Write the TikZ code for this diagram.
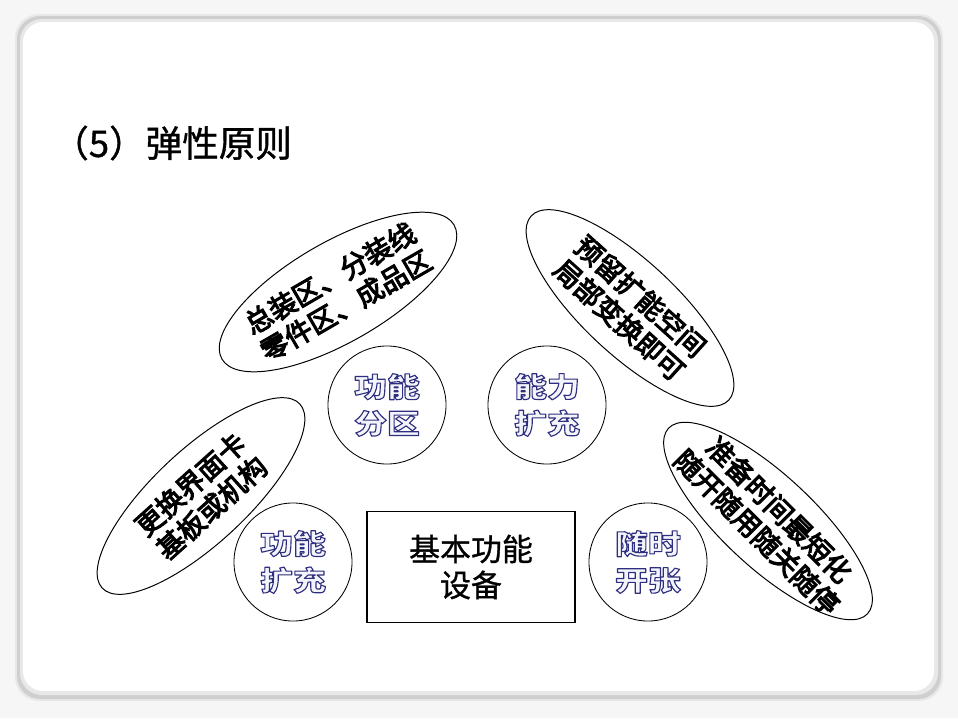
\documentclass[tikz,border=0pt]{standalone}
\usepackage{fontspec}
\usetikzlibrary{shapes.geometric}
\newfontfamily\heiti[FakeBold=1]{Noto Sans CJK SC}
\newfontfamily\heitibold[FakeBold=4]{Noto Sans CJK SC}
\newfontfamily\roundfont[FakeStretch=1.2]{Noto Sans CJK SC}
\definecolor{ringnavy}{HTML}{2E2F7E}
\definecolor{ringfill}{HTML}{F4F4FB}
% outlined glyphs: fill in text colour, stroke in navy
\newcommand\ringtxt[1]{\special{pdf:literal direct 2 Tr 0.8 w 1 j 0.18 0.184 0.494 RG}#1\special{pdf:literal direct 0 Tr}}

\begin{document}
\begin{tikzpicture}[x=0.025cm, y=-0.025cm,
    ell/.style={ellipse, draw, line width=0.7pt, minimum width=6.75cm,
      minimum height=2.35cm, inner sep=0pt},
    elltext/.style={align=center, inner sep=0pt,
      font=\heitibold\fontsize{19.5}{22.5}\selectfont},
    ring/.style={circle, draw, line width=0.6pt, minimum size=2.95cm,
      align=center, text=ringfill,
      font=\roundfont\bfseries\fontsize{19.5}{26}\selectfont}]
  \useasboundingbox (0,0) rectangle (958,718);
  % slide frame
  \fill[gray!7] (0,0) rectangle (958,718);
  \fill[gray!18, rounded corners=0.6cm] (15,14) rectangle (943,701);
  \fill[gray!38, rounded corners=0.58cm] (17,16) rectangle (941,699);
  \fill[gray!18, rounded corners=0.55cm] (20,19) rectangle (938,695);
  \fill[white, rounded corners=0.5cm] (23,22) rectangle (934,691);

  % title
  \node[anchor=west, inner sep=0pt, font=\heiti\fontsize{26}{30}\selectfont]
    (title) at (52,143) {（5）弹性原则};

  % inner circles
  \node[ring] (zoning) at (387,405) {\ringtxt{功能}\\\ringtxt{分区}};
  \node[ring] (capacity) at (547,405) {\ringtxt{能力}\\\ringtxt{扩充}};
  \node[ring] (funcext) at (293,562) {\ringtxt{功能}\\\ringtxt{扩充}};
  \node[ring] (onduty) at (648,562) {\ringtxt{随时}\\\ringtxt{开张}};

  % outer ellipses
  \node[ell, minimum height=2.5cm, minimum width=6.7cm, rotate=30] (ezone) at (338,292) {};
  \node[elltext, rotate=30] (tzone) at (ezone) {总装区、分装线\\零件区、成品区};

  \node[ell, rotate=-43] (ecap) at (630,308) {};
  \node[elltext, rotate=-42] (tcap) at (ecap) {预留扩能空间\\局部变换即可};

  \node[ell, rotate=43] (eext) at (201,496) {};
  \node[elltext, rotate=42] (text) at (eext) {更换界面卡\\基板或机构};

  \node[ell, minimum width=6.8cm, minimum height=2.3cm, rotate=-43] (eduty) at (768,521) {};
  \node[elltext, rotate=-45] (tduty) at (eduty) {准备时间最短化\\随开随用随关随停};

  % core box
  \node[draw, line width=1.2pt, minimum width=5.2cm, minimum height=2.78cm,
    align=center, font=\heiti\fontsize{22}{25.6}\selectfont]
    (basebox) at (471,567) {基本功能\\设备};
\end{tikzpicture}
\end{document}
